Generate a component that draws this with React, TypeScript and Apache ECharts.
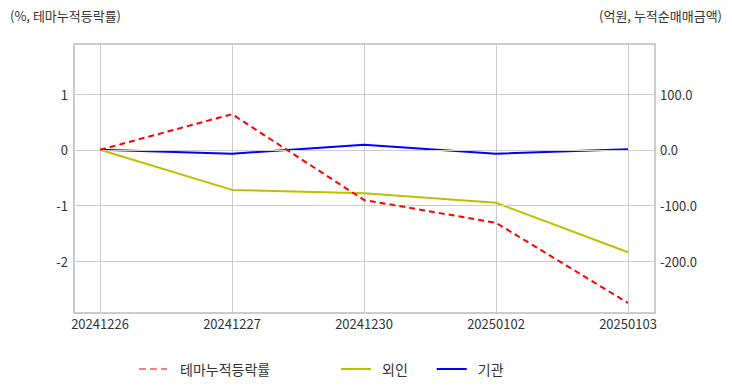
import React, { useEffect, useRef } from "react";
import * as echarts from "echarts";

const categories = ["20241226", "20241227", "20241230", "20250102", "20250103"];
const themeReturn = [0, 0.64, -0.9, -1.31, -2.75];
const foreignNet = [0, -72, -78, -95, -184];
const instNet = [0, -7, 9, -7, 1];
const leftTicks = [-2, -1, 0, 1];
const rightTicks = [-200, -100, 0, 100];
const leftRange = [-2.93, 1.9];
const rightRange = [-293, 190];

const dashIcon = "path://M0,0h7v1h-7zM11,0h7v1h-7zM22,0h6v1h-6z";

export default function App() {
  const ref = useRef<HTMLDivElement>(null);
  useEffect(() => {
    if (!ref.current) return;
    const chart = echarts.init(ref.current, undefined, { renderer: "svg" });
    const font = "'Noto Sans CJK KR', 'Noto Sans', sans-serif";
    const labelStyle = { color: "#333", fontSize: 13, fontFamily: font };
    const gridPos = { top: 44, bottom: 79 };
    chart.setOption({
      animation: false,
      backgroundColor: "#fff",
      textStyle: { fontFamily: font },
      grid: [
        { left: 74, right: 77, ...gridPos, show: true, borderColor: "#cccccc", borderWidth: 2, backgroundColor: "transparent" },
        { left: 100, right: 104, ...gridPos },
      ],
      xAxis: [
        { type: "value", gridIndex: 0, min: 0, max: 1, show: false },
        {
          type: "category",
          gridIndex: 1,
          data: categories,
          boundaryGap: false,
          axisLine: { show: false },
          axisTick: { show: false },
          axisLabel: { ...labelStyle, margin: 4 },
          splitLine: { show: true, lineStyle: { color: "#cccccc", width: 1 } },
        },
      ],
      yAxis: [
        {
          type: "value",
          gridIndex: 0,
          position: "left",
          min: leftRange[0],
          max: leftRange[1],
          axisLine: { show: false },
          axisTick: { show: false },
          splitLine: { show: false },
          axisLabel: { ...labelStyle, margin: 6, customValues: leftTicks, formatter: (v: number) => String(v) },
        },
        {
          type: "value",
          gridIndex: 0,
          position: "right",
          min: rightRange[0],
          max: rightRange[1],
          axisLine: { show: false },
          axisTick: { show: false },
          splitLine: { show: false },
          axisLabel: { ...labelStyle, margin: 5, customValues: rightTicks, formatter: (v: number) => v.toFixed(1) },
        },
        { type: "value", gridIndex: 1, min: leftRange[0], max: leftRange[1], show: false, splitLine: { show: false } },
        { type: "value", gridIndex: 1, min: rightRange[0], max: rightRange[1], show: false, splitLine: { show: false } },
      ],
      legend: [
        {
          left: 134,
          top: 357,
          itemWidth: 28,
          itemHeight: 2,
          textStyle: { ...labelStyle, fontSize: 14, padding: [0, 0, 0, 8] },
          data: [{ name: "테마누적등락률", icon: dashIcon }],
        },
        {
          left: 336,
          top: 357,
          itemWidth: 30,
          itemHeight: 2,
          itemGap: 29,
          textStyle: { ...labelStyle, fontSize: 14, padding: [0, 0, 0, 6] },
          data: [
            { name: "외인", icon: "rect" },
            { name: "기관", icon: "rect" },
          ],
        },
      ],
      graphic: [
        { type: "text", left: 10, top: 9, style: { text: "(%, 테마누적등락률)", fill: "#333", font: `13px ${font}` } },
        { type: "text", right: 10, top: 9, style: { text: "(억원, 누적순매매금액)", fill: "#333", font: `13px ${font}` } },
      ],
      series: [
        {
          name: "gridlines",
          type: "line",
          xAxisIndex: 0,
          yAxisIndex: 0,
          data: [],
          silent: true,
          markLine: {
            silent: true,
            symbol: "none",
            label: { show: false },
            lineStyle: { color: "#cccccc", type: "solid", width: 1 },
            data: leftTicks.map((t) => ({ yAxis: t })),
          },
        },
        {
          name: "테마누적등락률",
          type: "line",
          xAxisIndex: 1,
          yAxisIndex: 2,
          data: themeReturn,
          showSymbol: false,
          symbol: "none",
          color: "#ff0000",
          lineStyle: { color: "#ff0000", width: 2, type: [6, 4] },
          z: 5,
        },
        {
          name: "외인",
          type: "line",
          xAxisIndex: 1,
          yAxisIndex: 3,
          data: foreignNet,
          showSymbol: false,
          symbol: "none",
          color: "#bfbf00",
          lineStyle: { color: "#bfbf00", width: 2 },
          z: 4,
        },
        {
          name: "기관",
          type: "line",
          xAxisIndex: 1,
          yAxisIndex: 3,
          data: instNet,
          showSymbol: false,
          symbol: "none",
          color: "#0000ff",
          lineStyle: { color: "#0000ff", width: 2 },
          z: 4,
        },
      ],
    });
    return () => chart.dispose();
  }, []);
  return <div ref={ref} style={{ width: 732, height: 392, position: "absolute", left: 0, top: 0 }} />;
}
